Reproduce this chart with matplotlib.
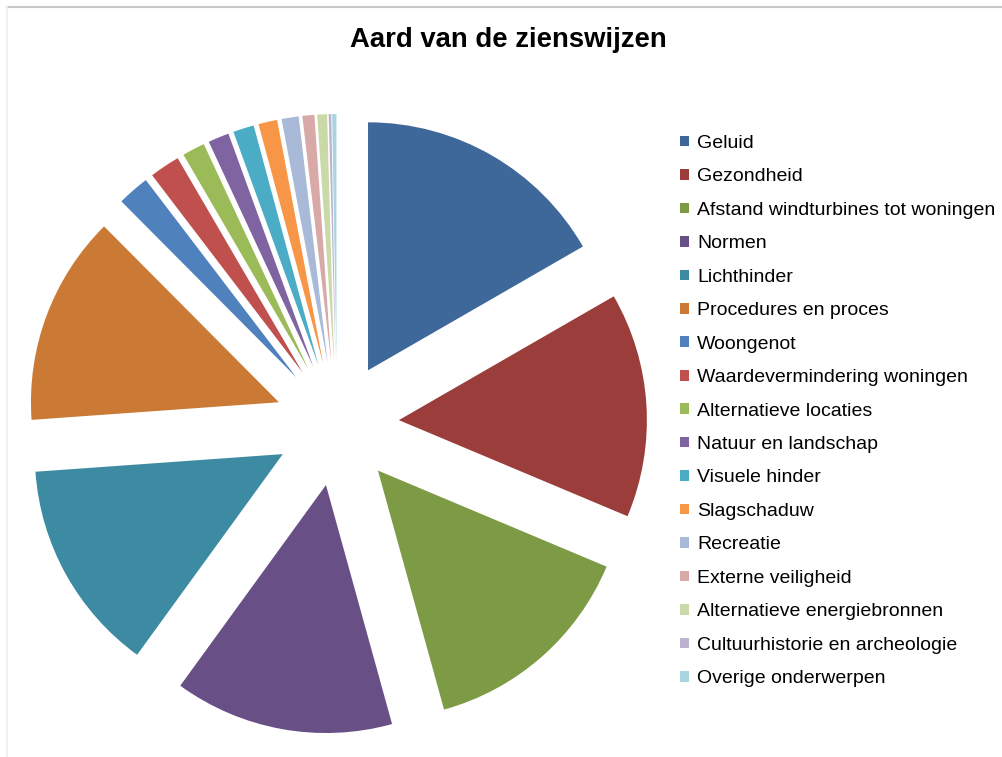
import matplotlib
matplotlib.use("Agg")
import matplotlib.pyplot as plt
from matplotlib.lines import Line2D

categories = [
    "Geluid", "Gezondheid", "Afstand windturbines tot woningen", "Normen",
    "Lichthinder", "Procedures en proces", "Woongenot",
    "Waardevermindering woningen", "Alternatieve locaties",
    "Natuur en landschap", "Visuele hinder", "Slagschaduw", "Recreatie",
    "Externe veiligheid", "Alternatieve energiebronnen",
    "Cultuurhistorie en archeologie", "Overige onderwerpen",
]
values = [60.0, 52.7, 51.7, 51.4, 49.9, 49.2, 7.5, 7.1, 5.3, 4.9, 4.9,
          4.4, 4.0, 2.8, 2.3, 0.6, 1.0]
colors = ["#3E6899", "#9B3D3B", "#7D9A45", "#685086", "#3C8BA2", "#CB7A36",
          "#4F81BD", "#C0504D", "#9BBB59", "#8064A2", "#4BACC6", "#F79646",
          "#A9BAD8", "#D9A9A8", "#C9D9A8", "#BFB1D0", "#A9D5E0"]
title = "Aard van de zienswijzen"

W, H = 1002, 757
fig = plt.figure(figsize=(W / 100, H / 100), dpi=100)
plt.rcParams['font.family'] = ['Liberation Sans', 'DejaVu Sans']

# axes covering whole figure, 1 data unit = R pixels
cx, cy, R = 337.0, 424.0, 248.0
ax = fig.add_axes([0, 0, 1, 1])
wedges, _ = ax.pie(values, colors=colors, startangle=90, counterclock=False,
                   explode=[0.25] * len(values), radius=1.0,
                   wedgeprops=dict(linewidth=0))
ax.set_aspect('auto')
ax.set_xlim(-cx / R, (W - cx) / R)
ax.set_ylim((cy - H) / R, cy / R)
ax.axis('off')

# chart border lines
fig.add_artist(Line2D([7 / W, 1], [1 - 7 / H, 1 - 7 / H], color="#C8C8C8", lw=1.5))
fig.add_artist(Line2D([7 / W, 7 / W], [0, 1 - 7 / H], color="#EFEFEF", lw=1.2))

fig.text(508 / W, 1 - 40 / H, title, ha='center', va='center',
         fontsize=19.8, fontweight='bold')

leg = fig.legend(wedges, categories, loc='upper left',
                 bbox_to_anchor=(680 / W, 1 - 135 / H),
                 frameon=False, fontsize=14, handlelength=0.46,
                 handleheight=0.46, handletextpad=0.41, labelspacing=0.846,
                 borderpad=0, borderaxespad=0)

fig.savefig("out.png", dpi=100, facecolor="white")
